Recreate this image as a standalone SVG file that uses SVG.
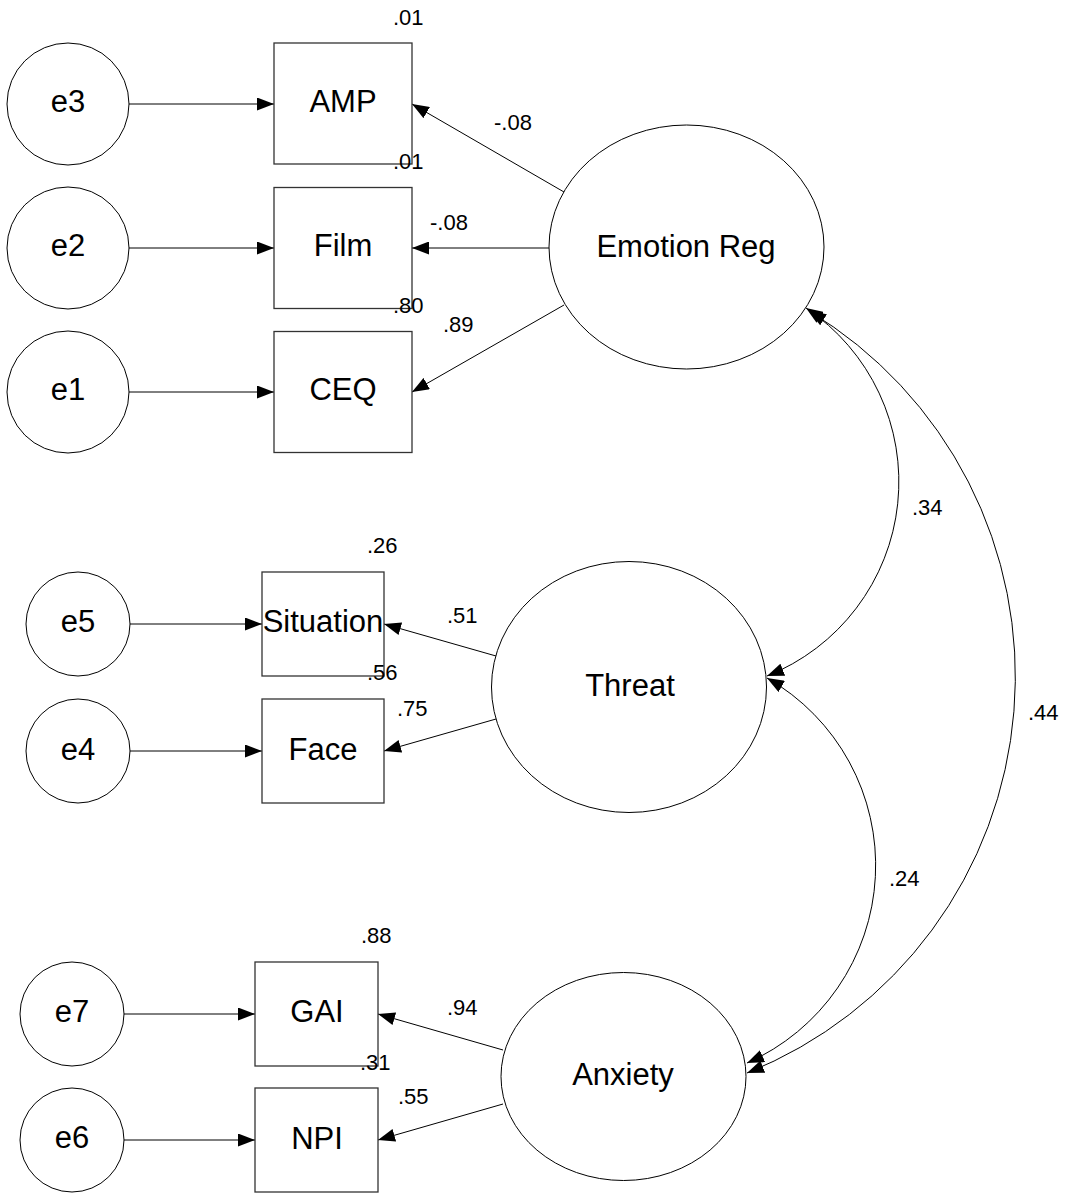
<svg xmlns="http://www.w3.org/2000/svg" width="1067" height="1193" viewBox="0 0 1067 1193">
<defs>
<marker id="ah" markerUnits="userSpaceOnUse" markerWidth="17" markerHeight="13" refX="17" refY="6.5" orient="auto-start-reverse">
<path d="M0,0 L17,6.5 L0,13 Z" fill="#000"/>
</marker>
<style>
.shape{fill:#fff;stroke:#000;stroke-width:1}
.box{fill:#fff;stroke:#333;stroke-width:1.3}
.lbl{font-family:"Liberation Sans",Arial,sans-serif;font-size:31px;fill:#000;text-anchor:middle}
.num{font-family:"Liberation Sans",Arial,sans-serif;font-size:22px;fill:#000}
.conn{fill:none;stroke:#000;stroke-width:1}
</style>
</defs>
<rect width="1067" height="1193" fill="#fff"/>
<g id="connectors">
<path class="conn" d="M129 104 H274" marker-end="url(#ah)"/>
<path class="conn" d="M129 248 H274" marker-end="url(#ah)"/>
<path class="conn" d="M129 392 H274" marker-end="url(#ah)"/>
<path class="conn" d="M564 192 L412 104" marker-end="url(#ah)"/>
<path class="conn" d="M549 248 H412" marker-end="url(#ah)"/>
<path class="conn" d="M564 305 L412 392" marker-end="url(#ah)"/>
<path class="conn" d="M130 624 H262" marker-end="url(#ah)"/>
<path class="conn" d="M130 751 H262" marker-end="url(#ah)"/>
<path class="conn" d="M496 656 L384 624" marker-end="url(#ah)"/>
<path class="conn" d="M496 719 L384 751" marker-end="url(#ah)"/>
<path class="conn" d="M124 1014 H255" marker-end="url(#ah)"/>
<path class="conn" d="M124 1140 H255" marker-end="url(#ah)"/>
<path class="conn" d="M503 1050 L378 1014" marker-end="url(#ah)"/>
<path class="conn" d="M503 1104 L378 1140" marker-end="url(#ah)"/>
<path class="conn" d="M806 308 A209 209 0 0 1 767 676" marker-start="url(#ah)" marker-end="url(#ah)"/>
<path class="conn" d="M767 678 A216 216 0 0 1 747 1063" marker-start="url(#ah)" marker-end="url(#ah)"/>
<path class="conn" d="M809 311 A427 427 0 0 1 747 1073" marker-start="url(#ah)" marker-end="url(#ah)"/>
</g>
<g id="e3"><circle class="shape" cx="68" cy="104" r="61"/><text class="lbl" x="68" y="112">e3</text></g>
<g id="e2"><circle class="shape" cx="68" cy="248" r="61"/><text class="lbl" x="68" y="256">e2</text></g>
<g id="e1"><circle class="shape" cx="68" cy="392" r="61"/><text class="lbl" x="68" y="400">e1</text></g>
<g id="AMP"><rect class="box" x="274" y="43" width="138" height="121"/><text class="lbl" x="343" y="112">AMP</text></g>
<g id="Film"><rect class="box" x="274" y="187.5" width="138" height="121"/><text class="lbl" x="343" y="256">Film</text></g>
<g id="CEQ"><rect class="box" x="274" y="331.5" width="138" height="121"/><text class="lbl" x="343" y="400">CEQ</text></g>
<g id="EmotionReg"><ellipse class="shape" cx="686.5" cy="247" rx="137.5" ry="122"/><text class="lbl" x="686" y="257">Emotion Reg</text></g>
<g id="e5"><circle class="shape" cx="78" cy="624" r="52"/><text class="lbl" x="78" y="632">e5</text></g>
<g id="e4"><circle class="shape" cx="78" cy="751" r="52"/><text class="lbl" x="78" y="760">e4</text></g>
<g id="Situation"><rect class="box" x="262" y="572" width="122" height="104"/><text class="lbl" x="323" y="632">Situation</text></g>
<g id="Face"><rect class="box" x="262" y="699" width="122" height="104"/><text class="lbl" x="323" y="760">Face</text></g>
<g id="Threat"><ellipse class="shape" cx="629" cy="687" rx="137.5" ry="125.5"/><text class="lbl" x="630" y="696">Threat</text></g>
<g id="e7"><circle class="shape" cx="72" cy="1014" r="52"/><text class="lbl" x="72" y="1022">e7</text></g>
<g id="e6"><circle class="shape" cx="72" cy="1140" r="52"/><text class="lbl" x="72" y="1148">e6</text></g>
<g id="GAI"><rect class="box" x="255" y="962" width="123" height="104"/><text class="lbl" x="317" y="1022">GAI</text></g>
<g id="NPI"><rect class="box" x="255" y="1088" width="123" height="104"/><text class="lbl" x="317" y="1149">NPI</text></g>
<g id="Anxiety"><ellipse class="shape" cx="623.5" cy="1076.5" rx="122.5" ry="104"/><text class="lbl" x="623" y="1085">Anxiety</text></g>
<g id="labels">
<text class="num" x="393" y="25">.01</text>
<text class="num" x="494" y="130">-.08</text>
<text class="num" x="393" y="169">.01</text>
<text class="num" x="430" y="230">-.08</text>
<text class="num" x="393" y="313">.80</text>
<text class="num" x="443" y="332">.89</text>
<text class="num" x="367" y="553">.26</text>
<text class="num" x="447" y="623">.51</text>
<text class="num" x="367" y="680">.56</text>
<text class="num" x="397" y="716">.75</text>
<text class="num" x="912" y="515">.34</text>
<text class="num" x="889" y="886">.24</text>
<text class="num" x="1028" y="720">.44</text>
<text class="num" x="361" y="943">.88</text>
<text class="num" x="447" y="1015">.94</text>
<text class="num" x="360" y="1070">.31</text>
<text class="num" x="398" y="1104">.55</text>
</g>
</svg>
